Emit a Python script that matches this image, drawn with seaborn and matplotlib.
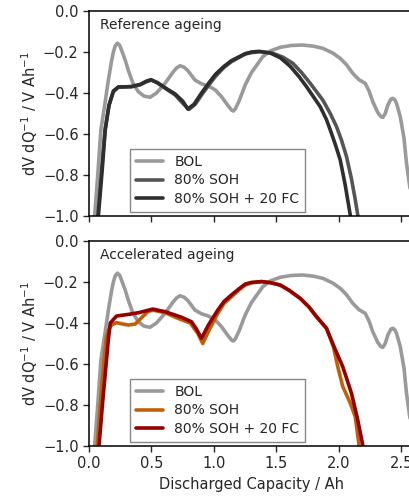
import numpy as np
import pandas as pd
import matplotlib
matplotlib.use("Agg")
import matplotlib.pyplot as plt
import seaborn as sns

# ---- data ----
bol_x = [0.02, 0.045, 0.07, 0.095, 0.128, 0.155, 0.18, 0.195, 0.21, 0.227, 0.245, 0.26, 0.29, 0.315, 0.35, 0.395, 0.44, 0.488,
         0.54, 0.608, 0.67, 0.70, 0.728, 0.76, 0.79, 0.848, 0.90, 0.955, 1.01, 1.06, 1.11, 1.14, 1.155, 1.17, 1.20, 1.25, 1.30,
         1.39, 1.45, 1.53, 1.62, 1.71, 1.80, 1.87, 1.95, 2.01, 2.06, 2.11, 2.16, 2.21, 2.24, 2.27, 2.31,
         2.335, 2.35, 2.37, 2.39, 2.415, 2.43, 2.445, 2.46, 2.49, 2.52, 2.54, 2.57, 2.60, 2.62]
bol_y = [-1.05, -1.0, -0.80, -0.58, -0.45, -0.337, -0.245, -0.20, -0.17, -0.157, -0.167, -0.19, -0.24, -0.29, -0.35, -0.394, -0.415, -0.421,
         -0.40, -0.353, -0.30, -0.278, -0.267, -0.274, -0.29, -0.337, -0.355, -0.366, -0.385, -0.418, -0.46, -0.483, -0.488, -0.478, -0.44, -0.36, -0.30,
         -0.223, -0.195, -0.177, -0.168, -0.166, -0.172, -0.182, -0.205, -0.231, -0.262, -0.304, -0.335, -0.353, -0.39, -0.442, -0.495,
         -0.515, -0.519, -0.50, -0.46, -0.43, -0.426, -0.432, -0.45, -0.515, -0.62, -0.743, -0.873, -1.0, -1.05]

ref_soh_x = [0.06, 0.07, 0.10, 0.128, 0.16, 0.195, 0.235, 0.29, 0.34, 0.41, 0.46, 0.50, 0.55, 0.61, 0.69, 0.75,
             0.80, 0.85, 0.90, 0.96, 1.01, 1.08, 1.14, 1.25, 1.30, 1.37, 1.47, 1.55, 1.63, 1.70, 1.77, 1.87,
             1.93, 1.98, 2.02, 2.06, 2.10, 2.13, 2.15, 2.16]
ref_soh_y = [-1.05, -1.0, -0.78, -0.58, -0.46, -0.394, -0.372, -0.370, -0.370, -0.360, -0.345, -0.337, -0.352, -0.377, -0.41, -0.45,
             -0.48, -0.455, -0.41, -0.36, -0.32, -0.275, -0.247, -0.21, -0.203, -0.198, -0.206, -0.225, -0.255, -0.30, -0.353, -0.434,
             -0.50, -0.564, -0.63, -0.71, -0.82, -0.92, -0.995, -1.05]

ref_fc_x = [0.06, 0.075, 0.105, 0.13, 0.16, 0.195, 0.235, 0.29, 0.34, 0.41, 0.46, 0.495, 0.55, 0.61, 0.69, 0.75,
            0.79, 0.84, 0.90, 0.96, 1.01, 1.08, 1.14, 1.25, 1.30, 1.36, 1.45, 1.53, 1.61, 1.68, 1.74, 1.85,
            1.90, 1.93, 1.97, 2.01, 2.05, 2.09, 2.10]
ref_fc_y = [-1.05, -1.0, -0.78, -0.58, -0.46, -0.39, -0.370, -0.370, -0.368, -0.358, -0.342, -0.335, -0.350, -0.375, -0.405, -0.44,
            -0.478, -0.455, -0.40, -0.35, -0.31, -0.27, -0.242, -0.208, -0.200, -0.197, -0.205, -0.228, -0.27, -0.32, -0.369, -0.467,
            -0.53, -0.58, -0.65, -0.727, -0.85, -0.995, -1.05]

acc_soh_x = [0.055, 0.066, 0.09, 0.12, 0.14, 0.16, 0.18, 0.22, 0.27, 0.315, 0.37, 0.43, 0.47, 0.51, 0.61, 0.71,
             0.81, 0.87, 0.91, 0.955, 1.03, 1.08, 1.14, 1.20, 1.25, 1.30, 1.38, 1.45, 1.53, 1.60, 1.69, 1.76, 1.82,
             1.90, 1.955, 1.99, 2.03, 2.09, 2.13, 2.16, 2.165]
acc_soh_y = [-1.05, -1.0, -0.80, -0.58, -0.467, -0.43, -0.41, -0.398, -0.405, -0.41, -0.405, -0.369, -0.345, -0.337, -0.35, -0.377,
             -0.40, -0.45, -0.50, -0.442, -0.353, -0.305, -0.272, -0.238, -0.215, -0.204, -0.198, -0.203, -0.215, -0.24, -0.28, -0.322, -0.369,
             -0.426, -0.515, -0.613, -0.71, -0.79, -0.857, -0.995, -1.05]

acc_fc_x = [0.07, 0.08, 0.11, 0.14, 0.155, 0.17, 0.22, 0.315, 0.395, 0.51, 0.61, 0.74, 0.82, 0.86, 0.90, 0.955,
            1.03, 1.08, 1.14, 1.20, 1.25, 1.30, 1.38, 1.45, 1.53, 1.60, 1.69, 1.76, 1.82, 1.90, 1.96, 2.03, 2.10, 2.15,
            2.19, 2.195]
acc_fc_y = [-1.05, -1.0, -0.78, -0.58, -0.48, -0.40, -0.366, -0.358, -0.35, -0.332, -0.345, -0.372, -0.394, -0.43, -0.475, -0.41,
            -0.337, -0.295, -0.263, -0.233, -0.21, -0.202, -0.198, -0.203, -0.215, -0.24, -0.28, -0.322, -0.369, -0.426, -0.515, -0.613,
            -0.743, -0.873, -0.995, -1.05]

labels = ["BOL", "80% SOH", "80% SOH + 20 FC"]
panel_titles = ["Reference ageing", "Accelerated ageing"]
x_ticks = [0.0, 0.5, 1.0, 1.5, 2.0, 2.5]
y_ticks = [0.0, -0.2, -0.4, -0.6, -0.8, -1.0]

# ---- styling ----
sns.set_style("ticks")
plt.rcParams["font.family"] = ["DejaVu Sans"]
plt.rcParams["font.size"] = 10

W, H = 410, 496
fig = plt.figure(figsize=(W / 100, H / 100), dpi=100)
left = 89 / W
width = 325 / W
h = 205 / H
ax_top = fig.add_axes([left, (H - 216) / H, width, h])
ax_bot = fig.add_axes([left, (H - 446) / H, width, h])

panels = [
    (ax_top, [(bol_x, bol_y), (ref_soh_x, ref_soh_y), (ref_fc_x, ref_fc_y)], ["#9a9a9a", "#555555", "#2e2e2e"]),
    (ax_bot, [(bol_x, bol_y), (acc_soh_x, acc_soh_y), (acc_fc_x, acc_fc_y)], ["#9a9a9a", "#c0600a", "#950000"]),
]

for i, (ax, series, colors) in enumerate(panels):
    for (xs, ys), lab, col in zip(series, labels, colors):
        df = pd.DataFrame({"x": xs, "y": ys})
        sns.lineplot(data=df, x="x", y="y", ax=ax, color=col, lw=2.6, label=lab,
                     sort=False, estimator=None, solid_capstyle="round", solid_joinstyle="round")
    ax.set_xlim(0, 2.6)
    ax.set_ylim(-1.0, 0.0)
    ax.set_xticks(x_ticks)
    ax.set_yticks(y_ticks)
    ax.set_yticklabels([f"{v:.1f}".replace("-", "\u2212") for v in y_ticks])
    ax.set_ylabel("dV dQ$^{-1}$ / V Ah$^{-1}$", fontsize=10.5)
    ax.yaxis.set_label_coords(-0.152, 0.5)
    ax.tick_params(labelsize=10.5, length=4, width=1, direction="out")
    for s in ax.spines.values():
        s.set_linewidth(1.1)
        s.set_color("black")
    ax.text(0.034, 0.965, panel_titles[i], transform=ax.transAxes, ha="left", va="top", fontsize=10)
    leg = ax.legend(loc="lower left", bbox_to_anchor=(0.126, 0.02), borderaxespad=0,
                    fancybox=False, edgecolor="#888888", framealpha=1, fontsize=10,
                    handlelength=2.0, labelspacing=0.35)
    leg.get_frame().set_linewidth(1.0)
    for lh in leg.get_lines():
        lh.set_linewidth(2.6)

ax_top.set_xlabel("")
ax_top.tick_params(labelbottom=False)
ax_bot.set_xlabel("Discharged Capacity / Ah", fontsize=10.5)
ax_bot.set_xticklabels([f"{v:.1f}" for v in x_ticks])

fig.savefig("out.png", dpi=100)
